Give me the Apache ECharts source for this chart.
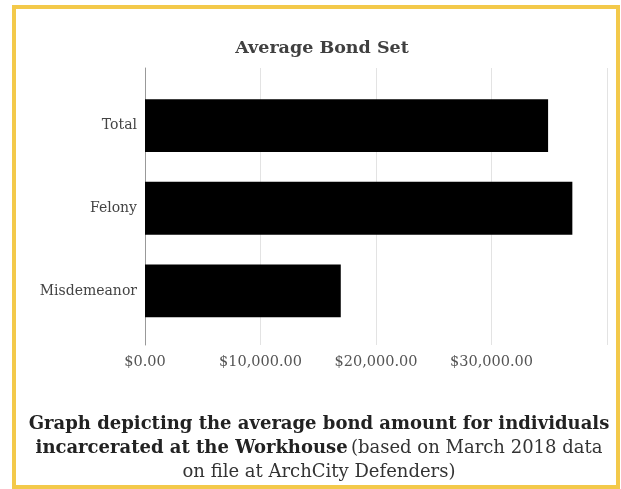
<!DOCTYPE html>
<html>
<head>
<meta charset="utf-8">
<script src="https://cdn.jsdelivr.net/npm/echarts@6/dist/echarts.min.js"></script>
<style>
html,body{margin:0;padding:0;background:#fff;}
#chart{width:621px;height:489px;}
</style>
</head>
<body>
<div id="chart"></div>
<script>
const categories = ['Total', 'Felony', 'Misdemeanor'];
const bondValues = [34900, 37000, 16950];
const xTicks = [0, 10000, 20000, 30000, 40000];
const titleText = 'Average Bond Set';
const captionBold1 = 'Graph depicting the average bond amount for individuals';
const captionBold2 = 'incarcerated at the Workhouse';
const captionNormal2 = '(based on March 2018 data';
const captionNormal3 = 'on file at ArchCity Defenders)';

const fmt = v => '$' + v.toLocaleString('en-US', {minimumFractionDigits: 2, maximumFractionDigits: 2});
const serif = 'DejaVu Serif';

const chart = echarts.init(document.getElementById('chart'));
chart.setOption({
  backgroundColor: '#fff',
  animation: false,
  title: {
    text: titleText,
    left: 317, top: 34, textAlign: 'center',
    textStyle: {fontFamily: serif, fontSize: 17.5, fontWeight: 'bold', color: '#404040'}
  },
  grid: [
    {left: 145, width: 462, top: 68, height: 277},
    {left: 145, width: 462, top: 84.25, height: 248}
  ],
  xAxis: [
    {
      gridIndex: 0, type: 'value', min: xTicks[0], max: xTicks[xTicks.length - 1], interval: 10000,
      axisLine: {show: false}, axisTick: {show: false},
      splitLine: {show: true, lineStyle: {color: '#e3e3e3', width: 1}},
      axisLabel: {formatter: v => xTicks.includes(v) && v < 40000 ? fmt(v) : '', margin: 10, fontFamily: serif, fontSize: 14.5, color: '#555'}
    },
    {
      gridIndex: 1, type: 'value', min: xTicks[0], max: xTicks[xTicks.length - 1],
      show: false
    }
  ],
  yAxis: [
    {
      gridIndex: 0, type: 'category', data: categories, inverse: true,
      axisLine: {show: true, lineStyle: {color: '#999', width: 1}},
      axisTick: {show: false}, axisLabel: {show: false}, splitLine: {show: false}
    },
    {
      gridIndex: 1, type: 'category', data: categories, inverse: true,
      axisLine: {show: false}, axisTick: {show: false},
      axisLabel: {margin: 8, fontFamily: serif, fontSize: 14, color: '#444'}
    }
  ],
  series: [
    {
      type: 'bar', xAxisIndex: 1, yAxisIndex: 1, data: bondValues,
      barCategoryGap: '36%',
      itemStyle: {color: '#000'}
    }
  ],
  graphic: [
    {
      type: 'rect', z: 100,
      shape: {x: 14, y: 7, width: 604, height: 480},
      style: {fill: 'none', stroke: '#f3c94a', lineWidth: 4}
    },
    {
      type: 'text', z: 100,
      style: {
        x: 319, y: 412, align: 'center', verticalAlign: 'top',
        text: '{b|' + captionBold1 + '}\n{b|' + captionBold2 + '} {n|' + captionNormal2 + '}\n{n|' + captionNormal3 + '}',
        rich: {
          b: {fontFamily: serif, fontSize: 18, fontWeight: 'bold', fill: '#222', lineHeight: 24},
          n: {fontFamily: serif, fontSize: 18, fontWeight: 'normal', fill: '#333', lineHeight: 24}
        }
      }
    }
  ]
});
</script>
</body>
</html>
